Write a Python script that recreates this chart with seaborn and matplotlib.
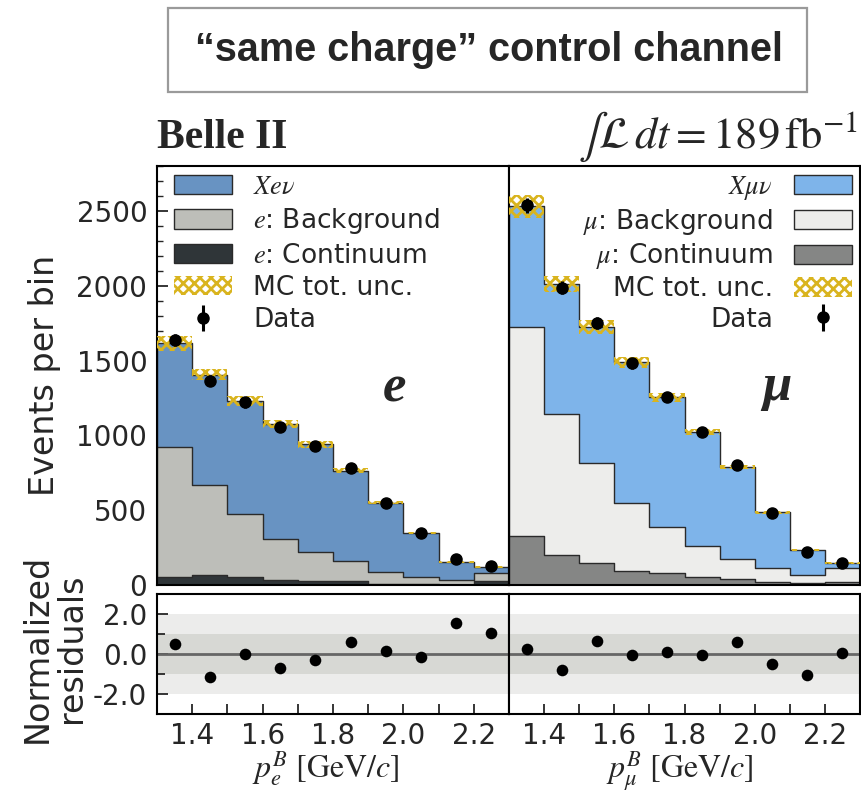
import numpy as np
import pandas as pd
import matplotlib
matplotlib.use("Agg")
import matplotlib.pyplot as plt
import seaborn as sns
from matplotlib.patches import Patch, Rectangle
from matplotlib.ticker import MultipleLocator, FormatStrFormatter

# ---- binning -------------------------------------------------------------
bin_edges = [1.3, 1.4, 1.5, 1.6, 1.7, 1.8, 1.9, 2.0, 2.1, 2.2, 2.3]

# ---- electron channel (events per bin) -----------------------------------
e_continuum = [55, 65, 55, 35, 30, 30, 5, 5, 3, 27]
e_background = [864, 606, 421, 274, 191, 131, 82, 49, 31, 54]
e_signal = [696, 734, 754, 766, 719, 604, 463, 295, 120, 40]
e_mc_unc = [50, 38, 35, 28, 24, 18, 12, 8, 6, 6]
e_data = [1640, 1365, 1221, 1054, 928, 779, 550, 349, 174, 127]
e_residuals = [0.50, -1.17, 0.00, -0.70, -0.28, 0.60, 0.14, -0.13, 1.56, 1.05]

# ---- muon channel (events per bin) ---------------------------------------
mu_continuum = [329, 199, 150, 96, 78, 52, 38, 22, 11, 22]
mu_background = [1398, 942, 667, 452, 307, 210, 134, 94, 56, 90]
mu_signal = [803, 872, 906, 940, 868, 760, 618, 369, 168, 33]
mu_mc_unc = [78, 55, 45, 35, 28, 22, 15, 10, 8, 6]
mu_data = [2539, 1987, 1752, 1481, 1257, 1025, 803, 483, 221, 145]
mu_residuals = [0.25, -0.81, 0.67, -0.03, 0.12, -0.05, 0.59, -0.50, -1.06, 0.05]

# ---- labels --------------------------------------------------------------
title_text = "\u201csame charge\u201d control channel"
e_labels = [r"$Xe\nu$", r"$e$: Background", r"$e$: Continuum", "MC tot. unc.", "Data"]
mu_labels = [r"$X\mu\nu$", r"$\mu$: Background", r"$\mu$: Continuum", "MC tot. unc.", "Data"]

# ---- style ---------------------------------------------------------------
sns.set_theme(style="ticks")
plt.rcParams.update({
    "font.family": ["DejaVu Sans"],
    "mathtext.fontset": "stix",
    "axes.unicode_minus": False,
    "axes.linewidth": 1.5,
    "hatch.linewidth": 2.0,
    "xtick.direction": "in",
    "ytick.direction": "in",
    "axes.edgecolor": "black",
})

E_COLORS = {"sig": "#6893c2", "bkg": "#bdbeb9", "cont": "#2f3538"}
MU_COLORS = {"sig": "#7eb4ea", "bkg": "#ededeb", "cont": "#858685"}
GOLD = "#d9b41e"
EDGE = "#2a2a2a"
HATCH = "xxx"

W, H = 861, 791
fig = plt.figure(figsize=(W / 100, H / 100), dpi=100)


def fx(px):
    return px / W


def fy(py):
    return 1 - py / H


ax_e = fig.add_axes([fx(157), fy(585), fx(509) - fx(157), fy(166) - fy(585)])
ax_m = fig.add_axes([fx(509), fy(585), fx(860) - fx(509), fy(166) - fy(585)])
ax_er = fig.add_axes([fx(157), fy(714), fx(509) - fx(157), fy(594) - fy(714)])
ax_mr = fig.add_axes([fx(509), fy(714), fx(860) - fx(509), fy(594) - fy(714)])

edges = np.array(bin_edges)
centers = 0.5 * (edges[:-1] + edges[1:])


def draw_stack(ax, cont, bkg, sig, unc, data, colors):
    cont = np.array(cont, float)
    bkg = np.array(bkg, float)
    sig = np.array(sig, float)
    total = cont + bkg + sig
    layers = [(total, colors["sig"]), (cont + bkg, colors["bkg"]), (cont, colors["cont"])]
    for heights, col in layers:
        frame = pd.DataFrame({"p": centers, "n": heights})
        sns.histplot(data=frame, x="p", weights="n", bins=list(bin_edges),
                     element="step", fill=True, color=col, alpha=1,
                     edgecolor=EDGE, linewidth=1.0, ax=ax)
    ax.bar(centers, 2 * np.array(unc), bottom=total - np.array(unc), width=0.1,
           facecolor="none", edgecolor=GOLD, hatch=HATCH, linewidth=0, zorder=3)
    d = np.array(data, float)
    cont_eb = ax.errorbar(centers, d, yerr=np.sqrt(d), fmt="o", color="black",
                          ms=8, elinewidth=2.2, capsize=0, zorder=4)
    return cont_eb


def legend_handles(colors, eb):
    return [
        Patch(facecolor=colors["sig"], edgecolor=EDGE, lw=1),
        Patch(facecolor=colors["bkg"], edgecolor=EDGE, lw=1),
        Patch(facecolor=colors["cont"], edgecolor=EDGE, lw=1),
        Patch(facecolor="none", edgecolor=GOLD, hatch=HATCH, lw=0),
        eb,
    ]


eb_e = draw_stack(ax_e, e_continuum, e_background, e_signal, e_mc_unc, e_data, E_COLORS)
eb_m = draw_stack(ax_m, mu_continuum, mu_background, mu_signal, mu_mc_unc, mu_data, MU_COLORS)

leg_kw = dict(fontsize=19, frameon=False, handlelength=2.2, handleheight=0.75,
              handletextpad=0.8, borderpad=0.3, borderaxespad=0.0)
ax_e.legend(legend_handles(E_COLORS, eb_e), e_labels, loc="upper left",
            bbox_to_anchor=(0.026, 1.0), labelspacing=0.24, **leg_kw)
ax_m.legend(legend_handles(MU_COLORS, eb_m), mu_labels, loc="upper right",
            bbox_to_anchor=(1.0, 1.0), labelspacing=0.18, markerfirst=False, **leg_kw)

# channel tags
ax_e.text(0.676, 0.4375, "e", transform=ax_e.transAxes, ha="center", va="baseline",
          fontsize=38, fontweight="bold", fontstyle="italic", family="Liberation Serif")
ax_m.text(0.764, 0.4415, "\u03bc", transform=ax_m.transAxes, ha="center", va="baseline",
          fontsize=38, fontweight="bold", fontstyle="italic", family="Liberation Serif")

for ax in (ax_e, ax_m):
    ax.set_xlim(1.3, 2.3)
    ax.set_ylim(0, 2800)
    ax.set_xlabel("")
    ax.set_ylabel("")
    ax.xaxis.set_major_locator(MultipleLocator(0.1))
    ax.tick_params(axis="x", which="both", bottom=True, top=False, labelbottom=False,
                   length=7, width=1.3)

ax_e.yaxis.set_major_locator(MultipleLocator(500))
ax_e.yaxis.set_minor_locator(MultipleLocator(100))
ax_e.tick_params(axis="y", which="major", length=8, width=1.3, labelsize=20, pad=7)
ax_e.tick_params(axis="y", which="minor", length=4, width=1.0)
ax_m.tick_params(axis="y", which="both", left=False, labelleft=False)

# residual panels
for ax, res in ((ax_er, e_residuals), (ax_mr, mu_residuals)):
    ax.axhspan(-2, 2, color="#ececeb", lw=0, zorder=0)
    ax.axhspan(-1, 1, color="#d7d8d4", lw=0, zorder=0)
    ax.axhline(0, color="#666666", lw=2, zorder=1)
    sns.scatterplot(x=centers, y=res, color="black", s=70, edgecolor="black",
                    linewidth=0, ax=ax, zorder=3)
    ax.set_xlim(1.3, 2.3)
    ax.set_ylim(-3, 3)
    ax.xaxis.set_major_locator(MultipleLocator(0.2))
    ax.xaxis.set_minor_locator(MultipleLocator(0.1))
    ax.xaxis.set_major_formatter(FormatStrFormatter("%.1f"))
    ax.tick_params(axis="x", which="both", length=7, width=1.3, labelsize=20, pad=6,
                   top=False)
    ax.set_ylabel("")
    ax.set_xlabel("")

ax_er.yaxis.set_major_locator(MultipleLocator(2))
ax_er.yaxis.set_minor_locator(MultipleLocator(1))
ax_er.yaxis.set_major_formatter(FormatStrFormatter("%.1f"))
ax_er.tick_params(axis="y", which="major", length=8, width=1.3, labelsize=20, pad=7)
ax_er.tick_params(axis="y", which="minor", length=6, width=1.3)
ax_mr.tick_params(axis="y", which="both", left=False, labelleft=False)

# x-axis titles, placed on a common baseline under the residual panels
fig.text(fx(326), fy(777), r"$p_e^B$ [GeV/$c$]", ha="center", va="baseline",
         fontsize=23, family="STIXGeneral")
fig.text(fx(680), fy(777), r"$p_\mu^B$ [GeV/$c$]", ha="center", va="baseline",
         fontsize=23, family="STIXGeneral")

# y-axis titles
fig.text(fx(45), fy(375), "Events per bin", rotation=90, ha="center", va="center",
         fontsize=24)
fig.text(fx(54), fy(648), "Normalized\nresiduals", rotation=90, ha="center",
         va="center", fontsize=24, multialignment="center", linespacing=1.05)

# header
fig.text(fx(157), fy(148), "Belle II", ha="left", va="baseline", fontsize=30,
         fontweight="bold", family="Liberation Serif")
fig.text(fx(858), fy(148), r"$\int\mathcal{L}\,dt = 189\,\mathrm{fb}^{-1}$",
         ha="right", va="baseline", fontsize=32)

# title box
fig.add_artist(Rectangle((fx(168), fy(92)), fx(807) - fx(168), fy(8) - fy(92),
                         transform=fig.transFigure, fill=False,
                         edgecolor="#9a9a9a", lw=1.6))
fig.text(fx(489), fy(50), title_text, ha="center", va="center", fontsize=28.5,
         fontweight="bold", family="Liberation Sans")

fig.savefig("out.png", dpi=100)
